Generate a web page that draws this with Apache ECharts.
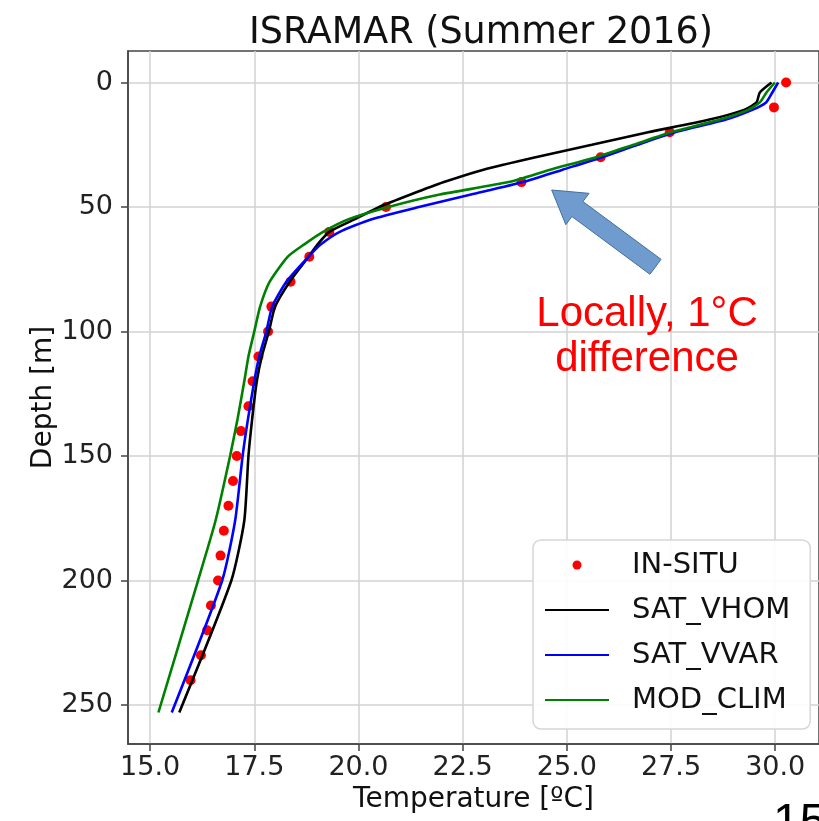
<!DOCTYPE html>
<html>
<head>
<meta charset="utf-8">
<script src="https://cdn.jsdelivr.net/npm/echarts@6/dist/echarts.min.js"></script>
<style>
    html, body { margin: 0; padding: 0; background: #fff; }
    #chart { width: 819px; height: 821px; }
</style>
</head>
<body>
<div id="chart"></div>
<script>
// depth levels of the model / satellite profiles [m]
const depth = [0, 4, 8, 11, 15, 20, 25, 30, 35, 40, 45, 50, 55, 60, 65, 70, 80, 90, 100, 110, 120, 135, 150, 176, 200, 253];
const satVhom = [29.91, 29.63, 29.55, 29.25, 28.40, 26.95, 25.60, 24.25, 23.00, 22.05, 21.25, 20.50, 19.90, 19.30, 19.02, 18.80, 18.35, 18.00, 17.85, 17.68, 17.56, 17.45, 17.36, 17.26, 16.95, 15.70];
const satVvar = [30.07, 29.93, 29.78, 29.45, 28.80, 27.60, 26.70, 25.85, 24.90, 23.95, 22.70, 21.45, 20.30, 19.55, 19.10, 18.80, 18.27, 17.93, 17.79, 17.62, 17.50, 17.35, 17.22, 17.04, 16.73, 15.52];
const modClim = [29.99, 29.79, 29.63, 29.35, 28.65, 27.50, 26.60, 25.70, 24.60, 23.60, 21.95, 20.72, 19.75, 19.15, 18.70, 18.30, 17.87, 17.64, 17.50, 17.36, 17.26, 17.10, 16.92, 16.57, 16.15, 15.20];

// in-situ samples, every 10 m
const insituDepth = [0, 10, 20, 30, 40, 50, 60, 70, 80, 90, 100, 110, 120, 130, 140, 150, 160, 170, 180, 190, 200, 210, 220, 230, 240];
const insituTemp = [30.26, 29.97, 27.47, 25.81, 23.91, 20.66, 19.30, 18.82, 18.37, 17.91, 17.83, 17.60, 17.46, 17.36, 17.18, 17.08, 16.99, 16.88, 16.77, 16.69, 16.63, 16.46, 16.37, 16.22, 15.97];

const xTicks = [15, 17.5, 20, 22.5, 25, 27.5, 30];
const yTicks = [0, 50, 100, 150, 200, 250];

const font = 'DejaVu Sans';
const axisColor = '#444';
const gridColor = '#d2d2d2';

function pairs(temps) {
    return temps.map(function (t, i) { return [t, depth[i]]; });
}

function lineSeries(name, temps, color) {
    return {
        name: name,
        type: 'line',
        data: pairs(temps),
        showSymbol: false,
        symbol: 'none',
        smooth: 0.2,
        lineStyle: { color: color, width: 2.6 },
        itemStyle: { color: color },
        animation: false
    };
}

// arrow pointing at the thermocline gap
function arrowPoints() {
    const tip = [551.7, 190];
    const tail = [655.5, 266.8];
    const headLen = 32, headHalf = 19.5, shaftHalf = 9.3;
    const dx = tail[0] - tip[0], dy = tail[1] - tip[1];
    const len = Math.sqrt(dx * dx + dy * dy);
    const ux = dx / len, uy = dy / len;
    const px = -uy, py = ux;
    const bx = tip[0] + ux * headLen, by = tip[1] + uy * headLen;
    return [
        tip,
        [bx + px * headHalf, by + py * headHalf],
        [bx + px * shaftHalf, by + py * shaftHalf],
        [tail[0] + px * shaftHalf, tail[1] + py * shaftHalf],
        [tail[0] - px * shaftHalf, tail[1] - py * shaftHalf],
        [bx - px * shaftHalf, by - py * shaftHalf],
        [bx - px * headHalf, by - py * headHalf]
    ];
}

// legend entry for a plain line (hide the marker ECharts puts in the middle)
const noMarker = { opacity: 0, borderWidth: 0 };

const option = {
    animation: false,
    backgroundColor: '#fff',
    textStyle: { fontFamily: font },
    title: {
        text: 'ISRAMAR (Summer 2016)',
        left: 476,
        textAlign: 'center',
        top: 10,
        textStyle: { fontFamily: font, fontSize: 36.5, fontWeight: 'normal', color: '#111' }
    },
    grid: {
        left: 128, right: -7, top: 51, bottom: 77,
        show: true,
        borderColor: axisColor,
        borderWidth: 1.5,
        backgroundColor: 'transparent'
    },
    legend: {
        orient: 'vertical',
        left: 533,
        top: 540,
        padding: [8, 20, 12, 11],
        itemWidth: 64,
        itemHeight: 9,
        itemGap: 11,
        backgroundColor: 'rgba(255,255,255,0.9)',
        borderColor: '#d6d6d6',
        borderWidth: 1.5,
        borderRadius: 8,
        textStyle: { fontFamily: font, fontSize: 29, color: '#111', lineHeight: 34, padding: [0, 0, 0, 18] },
        data: [
            { name: 'IN-SITU', icon: 'circle' },
            { name: 'SAT_VHOM', itemStyle: noMarker },
            { name: 'SAT_VVAR', itemStyle: noMarker },
            { name: 'MOD_CLIM', itemStyle: noMarker }
        ]
    },
    xAxis: {
        type: 'value',
        min: 14.47,
        max: 31.05,
        name: 'Temperature [ºC]',
        nameLocation: 'middle',
        nameGap: 42,
        nameMoveOverlap: false,
        nameTextStyle: { fontFamily: font, fontSize: 28, color: '#111' },
        axisLine: { show: true, onZero: false, lineStyle: { color: axisColor, width: 1.5 } },
        axisTick: { show: true, length: 7, lineStyle: { color: axisColor, width: 1.5 }, customValues: xTicks },
        axisLabel: {
            fontFamily: font, fontSize: 27, color: '#222', margin: 10,
            customValues: xTicks,
            formatter: function (v) { return v.toFixed(1); }
        },
        splitLine: { show: true, lineStyle: { color: gridColor, width: 1.5 } }
    },
    yAxis: {
        type: 'value',
        inverse: true,
        min: -12.65,
        max: 265.65,
        name: 'Depth [m]',
        nameLocation: 'middle',
        nameRotate: 90,
        nameGap: 70,
        nameMoveOverlap: false,
        nameTextStyle: { fontFamily: font, fontSize: 28, color: '#111' },
        axisLine: { show: true, onZero: false, lineStyle: { color: axisColor, width: 1.5 } },
        axisTick: { show: true, length: 7, lineStyle: { color: axisColor, width: 1.5 }, customValues: yTicks },
        axisLabel: {
            fontFamily: font, fontSize: 27, color: '#222', margin: 15,
            customValues: yTicks
        },
        splitLine: { show: true, lineStyle: { color: gridColor, width: 1.5 } }
    },
    series: [
        {
            name: 'IN-SITU',
            type: 'scatter',
            data: insituTemp.map(function (t, i) { return [t, insituDepth[i]]; }),
            symbol: 'circle',
            symbolSize: 10,
            itemStyle: { color: '#ff0000', opacity: 1 }
        },
        lineSeries('SAT_VHOM', satVhom, '#000000'),
        lineSeries('SAT_VVAR', satVvar, '#0000ff'),
        lineSeries('MOD_CLIM', modClim, '#008000')
    ],
    graphic: [
        {
            type: 'polygon',
            z: 100,
            shape: { points: arrowPoints() },
            style: { fill: '#6f9bcf', stroke: '#41719c', lineWidth: 1 }
        },
        {
            type: 'text',
            z: 100,
            x: 647, y: 314,
            style: {
                text: 'Locally, 1°C',
                fill: '#ff0000',
                font: '42px "Liberation Sans"',
                textAlign: 'center',
                textVerticalAlign: 'middle'
            }
        },
        {
            type: 'text',
            z: 100,
            x: 647, y: 359,
            style: {
                text: 'difference',
                fill: '#ff0000',
                font: '42px "Liberation Sans"',
                textAlign: 'center',
                textVerticalAlign: 'middle'
            }
        },
        {
            type: 'text',
            z: 100,
            x: 773, y: 800,
            style: {
                text: '15',
                fill: '#000',
                font: '48px "Liberation Sans"',
                textAlign: 'left',
                textVerticalAlign: 'top'
            }
        }
    ]
};

const chart = echarts.init(document.getElementById('chart'), null, { renderer: 'canvas' });
chart.setOption(option);
</script>
</body>
</html>
